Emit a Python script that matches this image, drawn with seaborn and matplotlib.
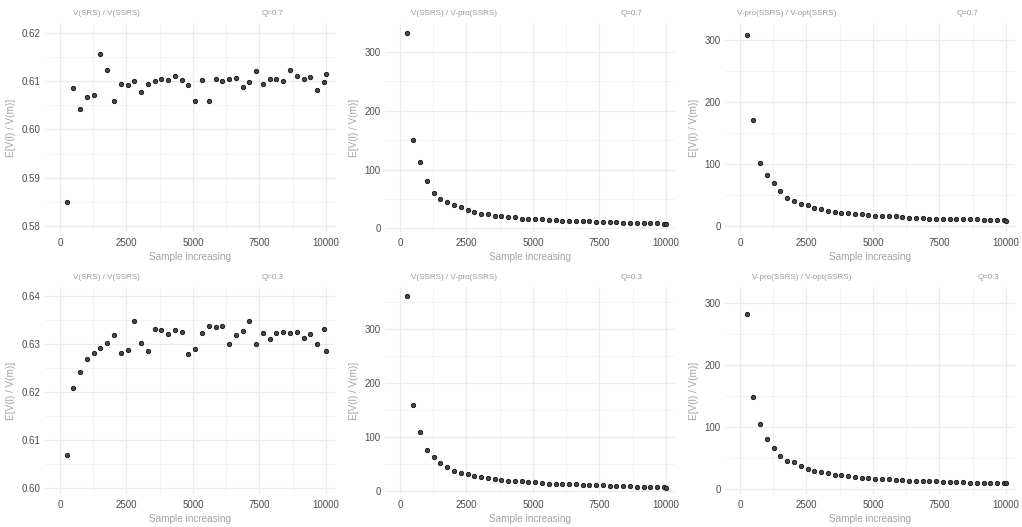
import pandas as pd
import matplotlib.pyplot as plt
import seaborn as sns

# sample sizes (x axis)
sample_n = [250, 505, 759, 1014, 1268, 1523, 1777, 2032, 2286, 2541,
            2795, 3050, 3304, 3559, 3813, 4068, 4322, 4577, 4831, 5086,
            5340, 5595, 5849, 6104, 6358, 6613, 6867, 7122, 7376, 7631,
            7885, 8140, 8394, 8649, 8903, 9158, 9412, 9667, 9921, 10000]

# Q = 0.7
srs_ssrs_07 = [0.5849, 0.6086, 0.6043, 0.6067, 0.6072, 0.6157, 0.6123, 0.6058, 0.6095, 0.6092,
               0.6100, 0.6077, 0.6095, 0.6100, 0.6104, 0.6102, 0.6110, 0.6103, 0.6093, 0.6058,
               0.6102, 0.6060, 0.6104, 0.6100, 0.6105, 0.6107, 0.6088, 0.6098, 0.6122, 0.6094,
               0.6104, 0.6104, 0.6100, 0.6124, 0.6110, 0.6104, 0.6109, 0.6082, 0.6098, 0.6115]
ssrs_pro_07 = [332, 150, 113.7, 80, 59.7, 50.6, 45.6, 40.5, 36.6, 31.5,
               28.1, 25.3, 24.2, 21.4, 21.4, 19.1, 19.1, 16.9, 16.9, 16.9,
               15.8, 14.6, 14.6, 13.5, 13.5, 12.4, 12.4, 12.4, 11.3, 11.3,
               11.3, 11.3, 10.1, 10.1, 10.1, 10.1, 10.1, 9.0, 7.9, 7.9]
pro_opt_07 = [307, 170.7, 101.8, 82.4, 69.5, 56, 45.2, 40.4, 34.5, 32.8,
              29.1, 26.4, 24.2, 22.6, 21, 20.5, 18.3, 18.3, 17.2, 16.2,
              16.2, 15.1, 15.1, 13.5, 12.4, 12.4, 12.4, 11.3, 11.3, 11.3,
              11.3, 10.2, 10.2, 10.2, 10.2, 9.2, 9.2, 9.2, 9.2, 8.1]

# Q = 0.3
srs_ssrs_03 = [0.6069, 0.6208, 0.6241, 0.6270, 0.6282, 0.6293, 0.6302, 0.6320, 0.6282, 0.6288,
               0.6349, 0.6302, 0.6286, 0.6331, 0.6329, 0.6321, 0.6329, 0.6325, 0.6280, 0.6290,
               0.6324, 0.6338, 0.6335, 0.6338, 0.6301, 0.6320, 0.6327, 0.6349, 0.6301, 0.6324,
               0.6310, 0.6324, 0.6325, 0.6324, 0.6325, 0.6312, 0.6321, 0.6301, 0.6331, 0.6285]
ssrs_pro_03 = [360.8, 159.8, 110, 76.8, 63.3, 52.2, 44.3, 37.5, 34.4, 31.3,
               28.9, 26.4, 25.2, 22.1, 20.9, 19.1, 18.4, 18.4, 16.6, 16.6,
               15.4, 14.1, 14.1, 12.9, 12.9, 12.9, 11.7, 11.7, 11.7, 11.7,
               10.4, 9.8, 9.8, 9.8, 8.6, 8.6, 8.6, 8.6, 8.6, 6.1]
pro_opt_03 = [282.3, 148.7, 105.2, 80, 65.5, 53.1, 45.1, 43.5, 37.6, 32.7,
              29.5, 26.8, 25.8, 22, 22.5, 20.9, 19.3, 18.3, 17.2, 16.1,
              16.1, 16.1, 14.5, 14.5, 13.4, 13.4, 12.9, 12.3, 12.3, 11.8,
              11.8, 11.3, 11.3, 10.2, 10.2, 10.2, 10.2, 9.1, 9.1, 9.1]

titles = ["V(SRS) / V(SSRS)", "V(SSRS) / V-pro(SSRS)", "V-pro(SSRS) / V-opt(SSRS)"]
q_labels = ["Q=0.7", "Q=0.3"]

sns.set_theme(style="whitegrid")
plt.rcParams["font.family"] = ["Liberation Sans", "DejaVu Sans"]

fig = plt.figure(figsize=(10.22, 5.27), dpi=100)

lefts = [45 / 1022, 385 / 1022, 725 / 1022]
width = 290 / 1022
rows = [(1 - 232 / 527, 209 / 527), (1 - 494 / 527, 207 / 527)]

panels = [
    (0, 0, srs_ssrs_07, (0.5787, 0.6221), [0.58, 0.59, 0.60, 0.61, 0.62], 0.005, 0.096, 0.747),
    (0, 1, ssrs_pro_07, (-6, 349), [0, 100, 200, 300], 50, 0.091, 0.812),
    (0, 2, pro_opt_07, (-10, 327), [0, 100, 200, 300], 50, 0.040, 0.800),
    (1, 0, srs_ssrs_03, (0.5988, 0.6419), [0.60, 0.61, 0.62, 0.63, 0.64], 0.005, 0.096, 0.747),
    (1, 1, ssrs_pro_03, (-5, 378), [0, 100, 200, 300], 50, 0.091, 0.812),
    (1, 2, pro_opt_03, (-8, 325), [0, 100, 200, 300], 50, 0.094, 0.870),
]

for r, c, vals, ylim, yt, ystep, tx, qx in panels:
    bottom, height = rows[r]
    ax = fig.add_axes([lefts[c], bottom, width, height])
    df = pd.DataFrame({"n": sample_n, "ratio": vals})
    sns.scatterplot(data=df, x="n", y="ratio", ax=ax, s=10,
                    color="#474747", edgecolor="#111111", linewidth=0.6)
    ax.set_xlim(-560, 10340)
    ax.set_xticks([0, 2500, 5000, 7500, 10000])
    ax.set_xticks([1250, 3750, 6250, 8750], minor=True)
    ax.set_yticks(yt)
    minors = [v + ystep for v in yt[:-1]] + [yt[0] - ystep, yt[-1] + ystep]
    ax.set_yticks(minors, minor=True)
    ax.set_ylim(*ylim)
    if ystep < 1:
        ax.set_yticklabels([f"{v:.2f}" for v in yt])
    else:
        ax.set_yticklabels([str(v) for v in yt])
    ax.set_xticklabels(["0", "2500", "5000", "7500", "10000"])
    ax.grid(True, which="major", color="#ebebeb", linewidth=0.9)
    ax.grid(True, which="minor", color="#f3f3f3", linewidth=0.6)
    ax.set_facecolor("white")
    for sp in ax.spines.values():
        sp.set_visible(False)
    ax.tick_params(axis="both", which="both", length=0, labelsize=7, colors="#4d4d4d")
    ax.tick_params(axis="x", pad=4)
    ax.tick_params(axis="y", pad=3)
    ax.set_xlabel("Sample increasing", fontsize=7.2, color="#a3a3a3", labelpad=3)
    ax.set_ylabel("E[V(l) / V(m)]", fontsize=7.2, color="#a3a3a3", labelpad=4)
    ax.text(tx, 1.03, titles[c], transform=ax.transAxes, fontsize=5.8, color="#9a9a9a", ha="left", va="bottom")
    ax.text(qx, 1.03, q_labels[r], transform=ax.transAxes, fontsize=5.8, color="#9a9a9a", ha="left", va="bottom")

fig.savefig("out.png", dpi=100, facecolor="white")
